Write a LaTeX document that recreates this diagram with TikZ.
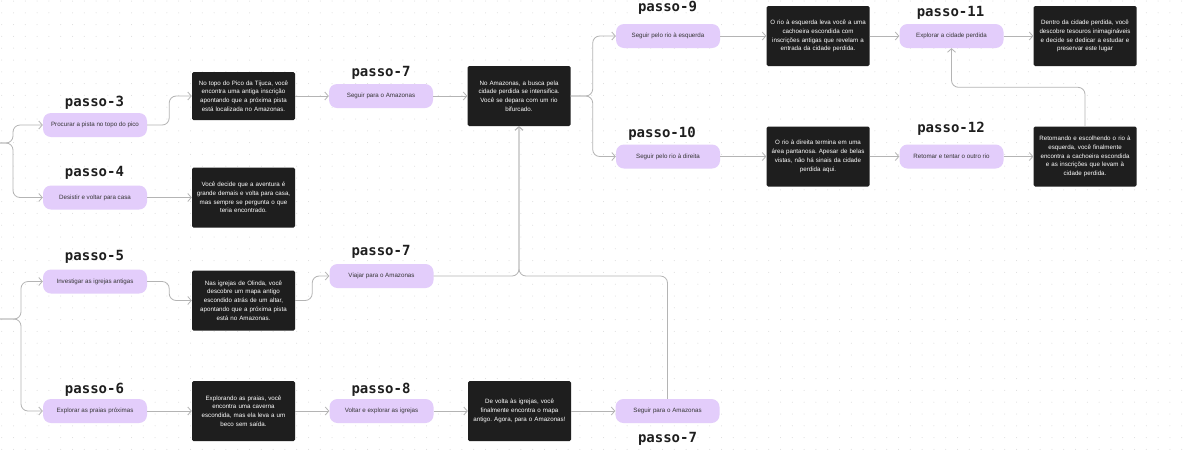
\documentclass[tikz,border=0pt]{standalone}
\usepackage{fontspec}
\setmainfont{Liberation Sans}
\newfontfamily\passofont{DejaVu Sans Mono}
\usetikzlibrary{arrows.meta}
\definecolor{lilac}{HTML}{E3CDFB}
\definecolor{ink}{HTML}{1E1E1E}
\definecolor{wire}{HTML}{B4B4B4}
\definecolor{dotgray}{HTML}{DADADA}
\frenchspacing

\begin{document}
\begin{tikzpicture}[x=1pt,y=-1pt,
   pill/.style={fill=lilac,rounded corners=8pt,minimum width=104pt,minimum height=24pt,inner sep=0pt,text=ink!90,font=\fontsize{6.2}{8}\selectfont},
   card/.style={fill=ink,rounded corners=1.5pt,minimum width=103pt,minimum height=60pt,text width=102pt,inner xsep=0.5pt,inner ysep=0pt,align=center,text=white,font=\fontsize{6.2}{8.8}\selectfont},
   passo/.style={inner sep=0pt,text=ink,font=\passofont\bfseries\fontsize{14}{14}\selectfont},
   conn/.style={draw=wire,line width=0.8pt,rounded corners=7pt,-{Straight Barb[length=3.5pt,width=8pt]}}]
         \fill[white] (0,0) rectangle (1185,451);
         \useasboundingbox (0,0) rectangle (1185,451);
         \foreach \gy in {0,...,38}
            \draw[dotgray,line width=1pt,line cap=round,dash pattern=on 0pt off 11.8pt] (1.7,1+11.8*\gy) -- (1185,1+11.8*\gy);
         % left column
         \node[pill] (p3) at (95,125) {Procurar a pista no topo do pico};
         \node[pill] (p4) at (95,197.5) {Desistir e voltar para casa};
         \node[pill] (p5) at (95,281.5) {Investigar as igrejas antigas};
         \node[pill] (p6) at (95,411) {Explorar as praias próximas};
         \node[passo] (t3) at (94.5,102.5) {passo-3};
         \node[passo] (t4) at (94.5,173) {passo-4};
         \node[passo] (t5) at (94.5,256.5) {passo-5};
         \node[passo] (t6) at (94.5,390) {passo-6};
         \node[card,minimum height=48pt] (b3) at (243.5,96) {No topo do Pico da Tijuca, você\\encontra uma antiga inscrição\\apontando que a próxima pista\\está localizada no Amazonas.};
         \node[card] (b4) at (243.5,197.5) {Você decide que a aventura é\\grande demais e volta para casa,\\mas sempre se pergunta o que\\teria encontrado.};
         \node[card] (b5) at (243.5,300.5) {Nas igrejas de Olinda, você\\descobre um mapa antigo\\escondido atrás de um altar,\\apontando que a próxima pista\\está no Amazonas.};
         \node[card] (b6) at (243.5,411) {Explorando as praias, você\\encontra uma caverna\\escondida, mas ela leva a um\\beco sem saída.};
         % middle
         \node[pill] (p7a) at (381,96) {Seguir para o Amazonas};
         \node[pill] (p7b) at (381.5,276) {Viajar para o Amazonas};
         \node[pill] (p8) at (381.5,411) {Voltar e explorar as igrejas};
         \node[passo] (t7a) at (381,73) {passo-7};
         \node[passo] (t7b) at (381,252) {passo-7};
         \node[passo] (t8) at (381,390) {passo-8};
         \node[card] (ba) at (519,96) {No Amazonas, a busca pela\\cidade perdida se intensifica.\\Você se depara com um rio\\bifurcado.};
         \node[card] (b8) at (519.5,411) {De volta às igrejas, você\\finalmente encontra o mapa\\antigo. Agora, para o Amazonas!};
         \node[pill] (p7c) at (667.5,411) {Seguir para o Amazonas};
         \node[passo] (t7c) at (667.5,438.5) {passo-7};
         % right part
         \node[pill] (p9) at (668,36) {Seguir pelo rio à esquerda};
         \node[pill] (p10) at (668,156.5) {Seguir pelo rio à direita};
         \node[passo] (t9) at (667.5,8) {passo-9};
         \node[passo] (t10) at (662,133.5) {passo-10};
         \node[card] (b9) at (818,36) {O rio à esquerda leva você a uma\\cachoeira escondida com\\inscrições antigas que revelam a\\entrada da cidade perdida.};
         \node[card] (b10) at (818,156.5) {O rio à direita termina em uma\\área pantanosa. Apesar de belas\\vistas, não há sinais da cidade\\perdida aqui.};
         \node[pill] (p11) at (951.5,36) {Explorar a cidade perdida};
         \node[pill] (p12) at (951.5,156.5) {Retomar e tentar o outro rio};
         \node[passo] (t11) at (950.5,12.5) {passo-11};
         \node[passo] (t12) at (951,128.5) {passo-12};
         \node[card] (b11) at (1085,36) {Dentro da cidade perdida, você\\descobre tesouros inimagináveis\\e decide se dedicar a estudar e\\preservar este lugar};
         \node[card] (b12) at (1085,156.5) {Retomando e escolhendo o rio à\\esquerda, você finalmente\\encontra a cachoeira escondida\\e as inscrições que levam à\\cidade perdida.};
         % connectors
         \coordinate (in1) at (0,143);
         \coordinate (in2) at (0,319);
         \draw[conn] (in1) -- ++(13,0) |- (p3.west);
         \draw[conn] (in1) -- ++(13,0) |- (p4.west);
         \draw[conn] (in2) -- ++(21,0) |- (p5.west);
         \draw[conn] (in2) -- ++(21,0) |- (p6.west);
         \draw[conn] (p3.east) -- ++(22,0) |- (b3.west);
         \draw[conn] (p4.east) -- (b4.west);
         \draw[conn] (p5.east) -- ++(22,0) |- (b5.west);
         \draw[conn] (b5.east) -- ++(17,0) |- (p7b.west);
         \draw[conn] (p6.east) -- (b6.west);
         \draw[conn] (b3.east) -- (p7a.west);
         \draw[conn] (b6.east) -- (p8.west);
         \draw[conn] (p7a.east) -- (ba.west);
         \draw[conn] (p8.east) -- (b8.west);
         \draw[conn] (b8.east) -- (p7c.west);
         \draw[conn] (p7b.east) -| (ba.south);
         \draw[conn] (p7c.north) |- (ba.south |- p7b.east) -- (ba.south);
         \draw[conn] (ba.east) -- ++(22,0) |- (p9.west);
         \draw[conn] (ba.east) -- ++(22,0) |- (p10.west);
         \draw[conn] (p9.east) -- (b9.west);
         \draw[conn] (p10.east) -- (b10.west);
         \draw[conn] (b9.east) -- (p11.west);
         \draw[conn] (b10.east) -- (p12.west);
         \draw[conn] (p11.east) -- (b11.west);
         \draw[conn] (p12.east) -- (b12.west);
         \draw[conn] (b12.north) -- ++(0,-39) -| (p11.south);
      \end{tikzpicture}
\end{document}
